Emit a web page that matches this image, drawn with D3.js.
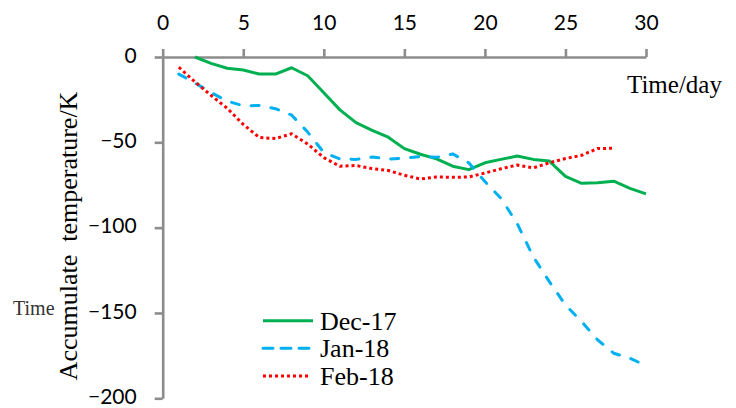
<!DOCTYPE html>
<html>
<head>
<meta charset="utf-8">
<script src="https://cdn.jsdelivr.net/npm/d3@7"></script>
<style>
  html, body { margin: 0; padding: 0; background: #fff; }
  svg { display: block; }
</style>
</head>
<body>
<svg id="chart" width="736" height="408"></svg>
<script>
// ---- data ----
const decDays = d3.range(2, 31);
const decValues = [0, -3.7, -6.6, -7.6, -10, -10, -6.3, -11, -21, -31, -38.5, -43, -47, -53.7, -57, -59.7, -64, -66, -62, -60, -58, -60, -61, -70, -74, -73.7, -72.8, -77, -80.2];
const janDays = d3.range(1, 31);
const janValues = [-10, -15.2, -20.8, -25.8, -28.6, -28.4, -30.3, -34, -44, -56, -59.8, -60, -58.6, -59.8, -59.3, -58.3, -58.8, -56.8, -62, -73, -82.8, -97.5, -117, -131.6, -145.3, -155, -165.8, -173.6, -176.5, -180.9];
const febDays = d3.range(1, 29);
const febValues = [-6, -14.5, -22.5, -30, -39.5, -47.2, -47.8, -45, -51, -59, -64, -63.6, -65.4, -66.5, -69.3, -71.5, -70.3, -70.5, -70.3, -68, -65.5, -63.3, -65, -62, -59.5, -57.6, -53.6, -53.5];
const seriesNames = ["Dec-17", "Jan-18", "Feb-18"];
const xTicks = [0, 5, 10, 15, 20, 25, 30];
const yTicks = [0, -50, -100, -150, -200];

const series = [
  { name: seriesNames[0], days: decDays, values: decValues, color: "#00B050", dash: null, cap: "butt" },
  { name: seriesNames[1], days: janDays, values: janValues, color: "#00B0F0", dash: "8,12", cap: "round" },
  { name: seriesNames[2], days: febDays, values: febValues, color: "#FF0000", dash: "3,3", cap: "butt" }
];

const svg = d3.select("#chart");
svg.append("rect").attr("width", 736).attr("height", 408).attr("fill", "#fff");

const x = d3.scaleLinear().domain([0, 30]).range([162.7, 646]);
const y = d3.scaleLinear().domain([0, -200]).range([57, 398.3]);

const axisColor = "#8c8c8c";
const tickFont = "Lato, 'Open Sans', sans-serif";
const serif = "'Liberation Serif', 'DejaVu Serif', serif";

// y axis
const gy = svg.append("g").attr("transform", `translate(${x(0)},0)`)
  .call(d3.axisLeft(y).tickValues(yTicks).tickSize(8).tickSizeOuter(0).tickPadding(18).tickFormat(d3.format("d")));
// x axis (top, at y=0)
const gx = svg.append("g").attr("transform", `translate(0,${y(0)})`)
  .call(d3.axisTop(x).tickValues(xTicks).tickSize(8).tickSizeOuter(0).tickPadding(19).tickFormat(d3.format("d")));

[gx, gy].forEach(g => {
  g.select(".domain").attr("stroke", axisColor).attr("stroke-width", 2.6);
  g.selectAll(".tick line").attr("stroke", axisColor).attr("stroke-width", 2.6);
  g.selectAll(".tick text").attr("fill", "#000").style("font-family", tickFont).style("font-size", "21px");
});
gy.selectAll(".tick text").attr("dy", "0.25em");

// lines
const line = d3.line().x(d => x(d[0])).y(d => y(d[1]));
series.forEach(s => {
  const pts = s.days.map((d, i) => [d, s.values[i]]);
  svg.append("path")
    .attr("d", line(pts))
    .attr("fill", "none")
    .attr("stroke", s.color)
    .attr("stroke-width", 3)
    .attr("stroke-linejoin", "round")
    .attr("stroke-linecap", s.cap)
    .attr("stroke-dasharray", s.dash);
});

// axis titles
svg.append("text").attr("x", 627).attr("y", 93)
  .style("font-family", serif).style("font-size", "25px").attr("fill", "#000")
  .text("Time/day");

svg.append("text")
  .attr("transform", "translate(77,236) rotate(-90)")
  .attr("text-anchor", "middle")
  .style("font-family", serif).style("font-size", "26px").style("white-space", "pre").attr("fill", "#000")
  .text("Accumulate  temperature/K");

svg.append("text").attr("x", 13).attr("y", 315)
  .style("font-family", serif).style("font-size", "20px").attr("fill", "#333")
  .text("Time");

// legend
const legend = svg.append("g");
series.forEach((s, i) => {
  const ly = 320.7 + i * 27.6;
  legend.append("line")
    .attr("x1", 263).attr("x2", s.dash === "3,3" ? 310 : 313)
    .attr("y1", ly).attr("y2", ly)
    .attr("stroke", s.color).attr("stroke-width", 3)
    .attr("stroke-linecap", s.cap)
    .attr("stroke-dasharray", s.dash === "8,12" ? "10,8" : s.dash);
  legend.append("text").attr("x", 320).attr("y", ly + 8.8)
    .style("font-family", serif).style("font-size", "26px").attr("fill", "#000")
    .text(s.name);
});
</script>
</body>
</html>
